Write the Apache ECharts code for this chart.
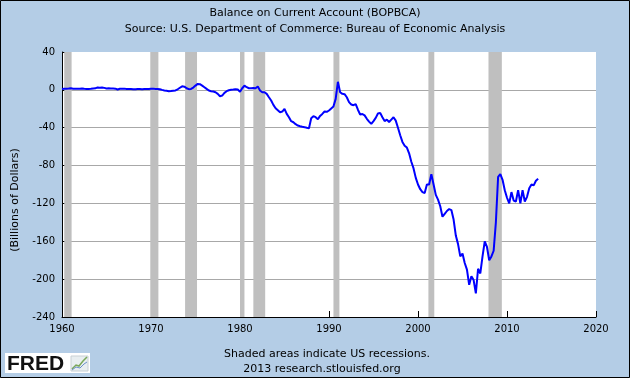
<!DOCTYPE html>
<html>
<head>
<meta charset="utf-8">
<script src="https://cdn.jsdelivr.net/npm/echarts@6/dist/echarts.min.js"></script>
<style>
  html, body { margin: 0; padding: 0; background: #b4cde6; }
  #main { width: 630px; height: 378px; }
</style>
</head>
<body>
<div id="main"></div>
<script>
// quarterly series, first value is 1960 Q1
var startYear = 1960;
var balance = [
  0.9, 1.2, 1.3, 1.4,   1.6, 1.2, 1.1, 1.3,   1.2, 1.4, 1.1, 1.0,   1.0, 1.1, 1.5, 1.6,
  2.6, 2.2, 2.4, 2.1,   1.5, 1.6, 1.5, 1.4,   1.3, 0.4, 1.1, 1.2,   1.3, 1.0, 0.8, 0.9,
  0.7, 0.7, 0.8, 0.8,   0.7, 0.9, 0.9, 0.8,   1.1, 1.3, 1.0, 1.0,   0.7, 0.0, -0.6, -1.0,
  -1.4, -1.2, -0.9, -0.6,   0.6, 2.2, 3.7, 3.4,   1.7, 0.7, 1.0, 2.4,   4.5, 6.3, 6.0, 4.5,
  2.8, 1.0, -0.7, -1.4,   -1.8, -2.5, -4.2, -6.7,   -6.0, -3.2, -1.4, -0.4,   0.0, 0.3, 0.7, 0.3,
  -2.0, 1.7, 4.5, 2.8,   1.7, 1.7, 2.0, 1.7,   3.5, -0.7, -2.5, -2.5,   -4.2, -7.8, -11.3, -15.9,
  -19.4, -21.5, -23.6, -22.9,   -20.1, -25.4, -28.9, -33.1,   -34.2, -36.3, -37.7, -38.4,   -39.0, -39.4, -40.1, -40.5,
  -30.0, -27.8, -28.9, -31.0,   -27.5, -25.4, -22.9, -23.2,   -21.8, -19.7, -17.6, -9.5,   8.5, -2.5, -4.2, -4.6,
  -7.8, -13.0, -15.5, -16.2,   -15.0, -21.0, -26.0, -25.5,   -27.0, -30.6, -33.5, -36.0,   -33.0, -29.6, -25.0, -24.3,
  -29.0, -33.0, -31.5, -34.0,   -31.5, -29.0, -32.5, -40.0,   -48.0, -55.0, -59.0, -61.0,   -67.0, -76.0, -83.0, -93.0,
  -100.0, -105.0, -108.0, -109.0,   -100.0, -100.0, -89.0, -100.0,   -111, -116, -123, -134,   -131, -128, -126, -127,
  -137, -154, -163, -176,   -173, -183, -190, -206,   -197, -201, -215, -189,   -194, -176, -160, -166,
  -180, -176, -170, -140,   -92, -89, -95, -106,   -114, -120, -108, -117,   -118, -106, -120, -106,
  -118, -113, -104, -100,   -101, -96, -94
];
// NBER recessions, peak and trough as decimal years
var recessions = [
  [1960.25, 1961.08], [1969.92, 1970.83], [1973.83, 1975.17], [1980.0, 1980.5],
  [1981.5, 1982.83], [1990.5, 1991.17], [2001.17, 2001.83], [2007.92, 2009.42]
];
var yearMin = 1960, yearMax = 2020, yearStep = 10;
var valMin = -240, valMax = 40, valStep = 40;

var chart = echarts.init(document.getElementById('main'), null, { renderer: 'canvas' });

var points = [];
for (var i = 0; i < balance.length; i++) {
  points.push([startYear + i / 4, balance[i]]);
}
var bands = recessions.map(function (r) {
  return [{ xAxis: r[0] }, { xAxis: r[1] }];
});

var font = 'DejaVu Sans';

var option = {
  backgroundColor: '#b4cde6',
  animation: false,
  textStyle: { fontFamily: font },
  title: [
    { text: 'Balance on Current Account (BOPBCA)', left: 'center', top: 3,
      textStyle: { fontSize: 11, fontWeight: 'normal', color: '#000', fontFamily: font } },
    { text: 'Source: U.S. Department of Commerce: Bureau of Economic Analysis', left: 'center', top: 19,
      textStyle: { fontSize: 11, fontWeight: 'normal', color: '#000', fontFamily: font } },
    { text: 'Shaded areas indicate US recessions.', left: 322, top: 344, textAlign: 'center',
      textStyle: { fontSize: 11, fontWeight: 'normal', color: '#000', fontFamily: font } },
    { text: '2013 research.stlouisfed.org', left: 317, top: 359, textAlign: 'center',
      textStyle: { fontSize: 11, fontWeight: 'normal', color: '#000', fontFamily: font } }
  ],
  grid: { left: 62, right: 34, top: 52, bottom: 61, containLabel: false,
    show: true, backgroundColor: '#fff', borderWidth: 0 },
  xAxis: {
    type: 'value',
    min: yearMin, max: yearMax, interval: yearStep,
    axisLine: { show: true, onZero: false, lineStyle: { color: '#000', width: 1 } },
    axisTick: { show: true, inside: true, length: 6, lineStyle: { color: '#000' } },
    axisLabel: { color: '#000', fontSize: 10, margin: 7, fontFamily: font,
      formatter: function (v) { return String(v); } },
    splitLine: { show: false }
  },
  yAxis: {
    type: 'value',
    min: valMin, max: valMax, interval: valStep,
    axisLine: { show: true, lineStyle: { color: '#000', width: 1 } },
    axisTick: { show: true, inside: true, length: 5, lineStyle: { color: '#000' } },
    axisLabel: { color: '#000', fontSize: 10, margin: 7, fontFamily: font },
    splitLine: { show: true, showMaxLine: false, showMinLine: false,
      lineStyle: { color: '#a8a8a8', width: 1 } }
  },
  series: [{
    type: 'line',
    data: points,
    showSymbol: false,
    symbol: 'none',
    lineStyle: { color: '#0000ff', width: 2 },
    markArea: {
      silent: true,
      itemStyle: { color: '#bfbfbf' },
      data: bands
    }
  }],
  graphic: [
    { type: 'text', x: 15, y: 200, rotation: Math.PI / 2,
      style: { text: '(Billions of Dollars)', fontSize: 11, fontFamily: font, fill: '#000',
        align: 'center', verticalAlign: 'middle' } },
    // FRED logo
    { type: 'rect', shape: { x: 5, y: 353, width: 85, height: 20 }, style: { fill: '#fff' } },
    { type: 'text', x: 7, y: 364,
      style: { text: 'FRED', fontSize: 21, fontWeight: 'bold', fontFamily: 'Liberation Sans',
        fill: '#111', verticalAlign: 'middle' } },
    { type: 'rect', shape: { x: 71, y: 356, width: 17, height: 15 },
      style: { fill: '#e8eef0', stroke: '#c8d0d4', lineWidth: 1 } },
    { type: 'polyline', shape: { points: [[72, 369], [76, 365], [79, 366], [83, 361], [87, 357]] },
      style: { stroke: '#7aa85a', lineWidth: 1.5, fill: null } },
    { type: 'polyline', shape: { points: [[72, 370], [76, 367], [80, 368], [84, 364], [87, 362]] },
      style: { stroke: '#6a8fc8', lineWidth: 1, fill: null } },
    // outer frame
    { type: 'rect', shape: { x: 0.5, y: 0.5, width: 629, height: 377 },
      style: { fill: null, stroke: '#000', lineWidth: 1 } }
  ]
};

chart.setOption(option);
</script>
</body>
</html>
